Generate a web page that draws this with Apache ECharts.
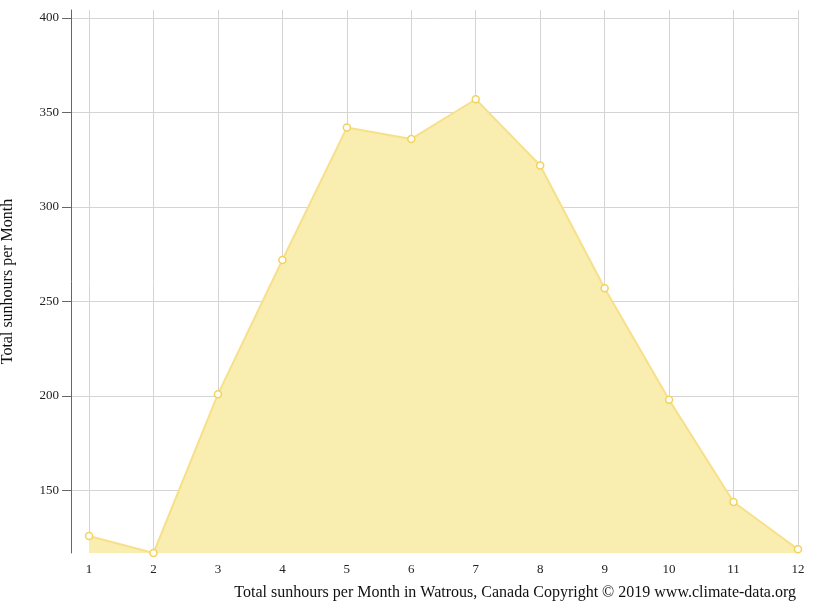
<!DOCTYPE html>
<html><head><meta charset="utf-8">
<script src="https://cdn.jsdelivr.net/npm/echarts@6/dist/echarts.min.js"></script>
<style>html,body{margin:0;padding:0;background:#fff}#c{width:815px;height:611px}</style>
</head><body><div id="c"></div>
<script>
const months = [1,2,3,4,5,6,7,8,9,10,11,12];
const sunhours = [126,117,201,272,342,336,357,322,257,198,144,119];
const yTicks = [150,200,250,300,350,400];
const title = 'Total sunhours per Month in Watrous, Canada Copyright © 2019 www.climate-data.org';
const yName = 'Total sunhours per Month';
const font = 'Liberation Serif';
const chart = echarts.init(document.getElementById('c'));
chart.setOption({
  animation:false,
  textStyle:{fontFamily:font},
  title:{text:title,right:14,bottom:5,textStyle:{fontFamily:font,fontSize:16,fontWeight:'normal',color:'#111'}},
  grid:{left:71,right:17,top:10,bottom:58,outerBoundsMode:'none',containLabel:false},
  xAxis:{type:'value',min:0.72,max:12,
    axisLine:{show:false},axisTick:{show:false},
    axisLabel:{customValues:months,color:'#222',fontSize:13,fontFamily:font,margin:10},
    splitLine:{show:false}},
  yAxis:{type:'value',min:117,max:404.2,name:yName,nameLocation:'middle',nameGap:55,
    nameTextStyle:{fontFamily:font,fontSize:16,color:'#111'},
    axisLine:{show:true,lineStyle:{color:'#666'}},
    axisTick:{show:true,customValues:yTicks,length:9,lineStyle:{color:'#666'}},
    axisLabel:{customValues:yTicks,color:'#222',fontSize:13,fontFamily:font,margin:12},
    splitLine:{show:true,lineStyle:{color:'#d4d4d4'}}},
  series:[{type:'line',data:months.map((m,i)=>[m,sunhours[i]]),
    symbol:'circle',symbolSize:7,z:3,
    itemStyle:{color:'#fff',borderColor:'#f3d35a',borderWidth:1.5},
    lineStyle:{color:'#f7e08a',width:2},
    areaStyle:{color:'#f9edb0',opacity:1,origin:'start'},
    markLine:{silent:true,symbol:'none',label:{show:false},z:1,
      lineStyle:{color:'#d4d4d4',width:1,type:'solid'},
      data:months.map(m=>({xAxis:m}))}}]
});
</script></body></html>
